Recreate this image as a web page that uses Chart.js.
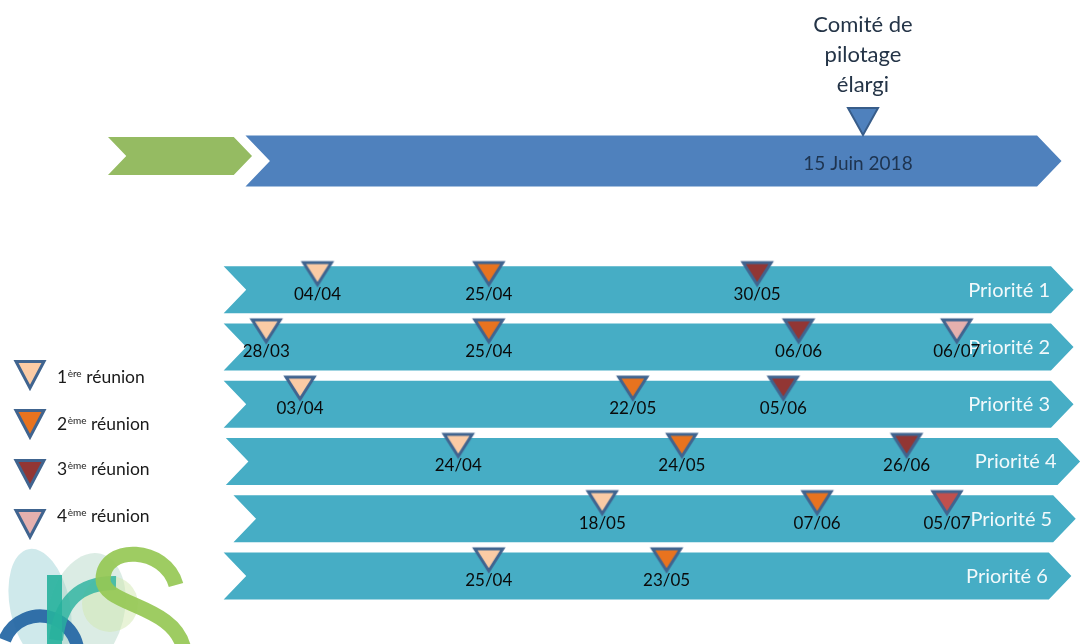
<!DOCTYPE html>
<html lang="fr">
<head>
<meta charset="utf-8">
<script src="https://cdn.jsdelivr.net/npm/chart.js@4.4.1/dist/chart.umd.min.js"></script>
<style>
html,body{margin:0;padding:0;background:#fff;width:1091px;height:644px;overflow:hidden}
canvas{position:absolute;left:0;top:0}
</style>
</head>
<body>
<canvas id="haut" width="1091" height="644"></canvas>
<canvas id="bas" width="1091" height="644"></canvas>
<script>
// ---------- Données (positions exprimées sur l'axe du calendrier, 0–100) ----------
const ligneCalendrier = ['Calendrier 2018'];
const etapes = ['Lancement', 'Travaux des priorités'];
const etapeDebut = [9.9, 22.5];
const etapeFin = [23.1, 97.3];

const jalonLignes = ['Comité de', 'pilotage', 'élargi'];
const jalonDate = '15 Juin 2018';
const jalonPosition = [79.1];

const priorites = ['Priorité 1', 'Priorité 2', 'Priorité 3', 'Priorité 4', 'Priorité 5', 'Priorité 6'];
const prioriteDebut = [20.5, 20.5, 20.5, 20.7, 21.4, 20.5];
const prioriteFin = [98.4, 98.4, 98.4, 99.0, 98.6, 98.2];

const rangs = ['1ère réunion', '2ème réunion', '3ème réunion', '4ème réunion'];

const reunion1Priorites = ['Priorité 1', 'Priorité 2', 'Priorité 3', 'Priorité 4', 'Priorité 5', 'Priorité 6'];
const reunion1Dates = ['04/04', '28/03', '03/04', '24/04', '18/05', '25/04'];
const reunion1Positions = [29.1, 24.4, 27.5, 42.0, 55.2, 44.8];

const reunion2Priorites = ['Priorité 1', 'Priorité 2', 'Priorité 3', 'Priorité 4', 'Priorité 5', 'Priorité 6'];
const reunion2Dates = ['25/04', '25/04', '22/05', '24/05', '07/06', '23/05'];
const reunion2Positions = [44.8, 44.8, 58.0, 62.5, 74.9, 61.1];

const reunion3Priorites = ['Priorité 1', 'Priorité 2', 'Priorité 3', 'Priorité 4', 'Priorité 5'];
const reunion3Dates = ['30/05', '06/06', '05/06', '26/06', '05/07'];
const reunion3Positions = [69.4, 73.2, 71.8, 83.1, 86.8];

const reunion4Priorites = ['Priorité 2'];
const reunion4Dates = ['06/07'];
const reunion4Positions = [87.7];

// ---------- Styles ----------
const FONT = 'Lato, "Open Sans", "Noto Sans", sans-serif';
Chart.defaults.font.family = FONT;
const bleuContour = '#40648F';
const couleursRang = ['#FBCBA5', '#E8731F', '#923634', '#E6B0AE'];
const couleurRangPriorite5 = '#C0504D';
const couleursEtapes = ['#95BB62', '#4F81BD'];
const couleurPriorite = '#46ADC5';

function imageTriangle(fill, stroke, lw, halfW, topOff, apexOff, cw, ch) {
  const c = document.createElement('canvas');
  c.width = cw; c.height = ch;
  const g = c.getContext('2d');
  const cx = cw / 2, cy = ch / 2;
  g.beginPath();
  g.moveTo(cx - halfW, cy + topOff);
  g.lineTo(cx + halfW, cy + topOff);
  g.lineTo(cx, cy + apexOff);
  g.closePath();
  g.fillStyle = fill; g.fill();
  g.lineJoin = 'miter'; g.lineWidth = lw; g.strokeStyle = stroke; g.stroke();
  return c;
}
const imagesRang = couleursRang.map(c => imageTriangle(c, bleuContour, 3, 14, -27, -5, 40, 64));
const imageRang3P5 = imageTriangle(couleurRangPriorite5, bleuContour, 3, 14, -27, -5, 40, 64);
const imageJalon = imageTriangle('#4F81BD', '#385D8A', 2, 15, -53, -26, 40, 120);

// ---------- Plugins ----------
const chevronPlugin = {
  id: 'chevrons',
  beforeDatasetDraw(chart, args) {
    const meta = args.meta;
    if (meta.type !== 'bar') return;
    const ds = chart.data.datasets[args.index];
    const ctx = chart.ctx;
    ctx.save();
    meta.data.forEach((el, i) => {
      const x = el.x, base = el.base, h = el.height;
      const y = el.y + (ds.decalage || 0);
      const top = y - h / 2, bot = y + h / 2, d = h * 0.48;
      ctx.beginPath();
      ctx.moveTo(base, top);
      ctx.lineTo(x - d, top);
      ctx.lineTo(x, y);
      ctx.lineTo(x - d, bot);
      ctx.lineTo(base, bot);
      ctx.lineTo(base + d, y);
      ctx.closePath();
      ctx.fillStyle = el.options.backgroundColor;
      ctx.fill();
      if (ds.etiquettes) {
        ctx.fillStyle = '#F2F9FB';
        ctx.font = '20px ' + FONT;
        ctx.textAlign = 'right';
        ctx.textBaseline = 'alphabetic';
        ctx.fillText(ds.etiquettes[i], x - d - 1, y + 7);
      }
    });
    ctx.restore();
    return false;
  }
};

const datesPlugin = {
  id: 'dates',
  afterDatasetsDraw(chart) {
    const ctx = chart.ctx;
    ctx.save();
    chart.data.datasets.forEach((ds, di) => {
      if (!ds.dates) return;
      const meta = chart.getDatasetMeta(di);
      meta.data.forEach((el, i) => {
        ctx.fillStyle = '#0A0A0A';
        ctx.font = '17px ' + FONT;
        ctx.textAlign = 'center';
        ctx.textBaseline = 'alphabetic';
        ctx.fillText(ds.dates[i], el.x, el.y + 10);
      });
    });
    ctx.restore();
  }
};

const jalonPlugin = {
  id: 'jalon',
  afterDatasetsDraw(chart) {
    const ctx = chart.ctx;
    chart.data.datasets.forEach((ds, di) => {
      if (!ds.jalon) return;
      const el = chart.getDatasetMeta(di).data[0];
      ctx.save();
      ctx.textAlign = 'center';
      ctx.textBaseline = 'alphabetic';
      ctx.fillStyle = '#243447';
      ctx.font = '22px ' + FONT;
      jalonLignes.forEach((l, k) => ctx.fillText(l, el.x, el.y - 129 + k * 30));
      ctx.fillStyle = '#1E3450';
      ctx.font = '19px ' + FONT;
      ctx.fillText(jalonDate, el.x - 5, el.y + 9);
      ctx.restore();
    });
  }
};

const legendePlugin = {
  id: 'legende',
  afterDraw(chart) {
    const ctx = chart.ctx;
    const hautsTri = [360, 409, 459, 509];
    const bases = [383, 430, 475, 522];
    ctx.save();
    rangs.forEach((r, i) => {
      const t = hautsTri[i];
      ctx.beginPath();
      ctx.moveTo(16, t + 1.5);
      ctx.lineTo(44, t + 1.5);
      ctx.lineTo(30, t + 28);
      ctx.closePath();
      ctx.fillStyle = couleursRang[i]; ctx.fill();
      ctx.lineWidth = 3; ctx.strokeStyle = bleuContour; ctx.lineJoin = 'miter'; ctx.stroke();
      const m = r.match(/^(\d)(\S+)(.*)$/);
      let x = 57;
      const b = bases[i];
      ctx.fillStyle = '#1A1A1A';
      ctx.textAlign = 'left';
      ctx.textBaseline = 'alphabetic';
      ctx.font = '17.5px ' + FONT;
      ctx.fillText(m[1], x, b); x += ctx.measureText(m[1]).width + 0.5;
      ctx.font = '10px ' + FONT;
      ctx.fillText(m[2], x, b - 6.5); x += ctx.measureText(m[2]).width;
      ctx.font = '17.5px ' + FONT;
      ctx.fillText(m[3], x, b);
    });
    ctx.restore();
  }
};

const logoPlugin = {
  id: 'logo',
  beforeDraw(chart) {
    const ctx = chart.ctx;
    ctx.save();
    ctx.beginPath(); ctx.rect(0, 545, 200, 99); ctx.clip();
    // feuilles translucides
    ctx.fillStyle = 'rgba(160,212,216,0.5)';
    ctx.beginPath(); ctx.ellipse(40, 606, 30, 58, -0.2, 0, Math.PI * 2); ctx.fill();
    ctx.fillStyle = 'rgba(170,210,190,0.42)';
    ctx.beginPath(); ctx.ellipse(86, 612, 38, 60, 0.25, 0, Math.PI * 2); ctx.fill();
    ctx.fillStyle = 'rgba(210,232,175,0.5)';
    ctx.beginPath(); ctx.arc(110, 604, 28, 0, Math.PI * 2); ctx.fill();
    // lettre a (bleu)
    ctx.lineCap = 'butt';
    ctx.strokeStyle = 'rgba(40,105,165,0.95)';
    ctx.lineWidth = 13;
    ctx.beginPath(); ctx.arc(40, 654, 38, Math.PI * 1.12, Math.PI * 1.95); ctx.stroke();
    // lettre r (turquoise)
    ctx.fillStyle = 'rgba(40,178,158,0.9)';
    ctx.fillRect(47, 575, 15, 70);
    ctx.strokeStyle = 'rgba(40,178,158,0.8)';
    ctx.lineWidth = 14;
    ctx.beginPath(); ctx.moveTo(56, 640); ctx.quadraticCurveTo(62, 582, 116, 583); ctx.stroke();
    // lettre s (vert)
    ctx.strokeStyle = 'rgba(150,200,85,0.92)';
    ctx.lineWidth = 15;
    ctx.beginPath();
    ctx.moveTo(176, 585);
    ctx.bezierCurveTo(165, 546, 104, 544, 103, 579);
    ctx.bezierCurveTo(102, 606, 176, 604, 184, 650);
    ctx.stroke();
    ctx.restore();
  }
};

// ---------- Graphique du haut (calendrier global) ----------
new Chart(document.getElementById('haut'), {
  type: 'bar',
  data: {
    labels: ligneCalendrier,
    datasets: [
      ...etapes.map((e, i) => ({
        label: e,
        data: [[etapeDebut[i], etapeFin[i]]],
        backgroundColor: couleursEtapes[i],
        barThickness: i === 0 ? 38 : 51,
        decalage: i === 0 ? -5 : 0,
        grouped: false,
        order: 10
      })),
      {
        type: 'scatter',
        label: jalonLignes.join(' '),
        jalon: true,
        data: jalonPosition.map(p => ({ x: p, y: ligneCalendrier[0] })),
        pointStyle: imageJalon,
        pointRadius: 10,
        clip: false,
        order: 0
      }
    ]
  },
  options: {
    indexAxis: 'y',
    responsive: false,
    animation: false,
    events: [],
    layout: { autoPadding: false, padding: { top: 135, bottom: 457, left: 0, right: 0 } },
    scales: {
      x: { type: 'linear', min: 0, max: 100, display: false },
      y: { type: 'category', offset: true, display: false }
    },
    plugins: { legend: { display: false }, tooltip: { enabled: false } }
  },
  plugins: [chevronPlugin, jalonPlugin]
});

// ---------- Graphique du bas (priorités) ----------
const reunions = [
  [reunion1Priorites, reunion1Dates, reunion1Positions],
  [reunion2Priorites, reunion2Dates, reunion2Positions],
  [reunion3Priorites, reunion3Dates, reunion3Positions],
  [reunion4Priorites, reunion4Dates, reunion4Positions]
];

new Chart(document.getElementById('bas'), {
  type: 'bar',
  data: {
    labels: priorites,
    datasets: [
      {
        label: 'Priorités',
        data: priorites.map((p, i) => [prioriteDebut[i], prioriteFin[i]]),
        backgroundColor: couleurPriorite,
        barThickness: 47,
        etiquettes: priorites,
        order: 10
      },
      ...reunions.map(([prio, dates, pos], r) => ({
        type: 'scatter',
        label: rangs[r],
        dates: dates,
        data: prio.map((p, i) => ({ x: pos[i], y: p })),
        pointStyle: (ctx) => (r === 2 && prio[ctx.dataIndex] === 'Priorité 5') ? imageRang3P5 : imagesRang[r],
        pointRadius: 10,
        clip: false,
        order: 0
      }))
    ]
  },
  options: {
    indexAxis: 'y',
    responsive: false,
    animation: false,
    events: [],
    layout: { autoPadding: false, padding: { top: 261, bottom: 39.5, left: 0, right: 0 } },
    scales: {
      x: { type: 'linear', min: 0, max: 100, display: false },
      y: { type: 'category', offset: true, display: false }
    },
    plugins: { legend: { display: false }, tooltip: { enabled: false } }
  },
  plugins: [logoPlugin, chevronPlugin, datesPlugin, legendePlugin]
});
</script>
</body>
</html>
